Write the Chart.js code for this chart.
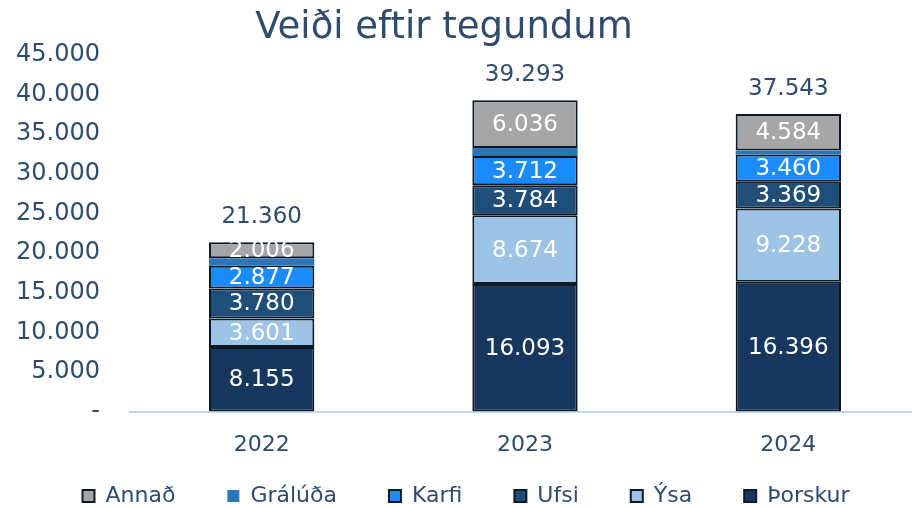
<!DOCTYPE html>
<html>
<head>
<meta charset="utf-8">
<script src="https://cdn.jsdelivr.net/npm/chart.js@4"></script>
<style>
  html, body { margin: 0; padding: 0; overflow: hidden; background: #fff; }
  #wrap { width: 920px; height: 508px; }
</style>
</head>
<body>
<div id="wrap"><canvas id="veidiChart" width="920" height="508"></canvas></div>
<script>
const years = ['2022', '2023', '2024'];
const thorskur = [8155, 16093, 16396];
const ysa = [3601, 8674, 9228];
const ufsi = [3780, 3784, 3369];
const karfi = [2877, 3712, 3460];
const graluda = [941, 994, 506];
const annad = [2006, 6036, 4584];
const totals = [21360, 39293, 37543];
const yTicks = [0, 5000, 10000, 15000, 20000, 25000, 30000, 35000, 40000, 45000];

const textColor = '#2f4b6e';
const fontFamily = '"DejaVu Sans", Verdana, sans-serif';
const edge = '#0d1a26';

function fmt(v) {
  return String(v).replace(/\B(?=(\d{3})+(?!\d))/g, '.');
}

// labels inside the segments and totals on top
const labelPlugin = {
  id: 'segmentLabels',
  afterDatasetsDraw(chart) {
    const ctx = chart.ctx;
    ctx.save();
    ctx.textAlign = 'center';
    ctx.textBaseline = 'middle';
    ctx.font = '23px ' + fontFamily;
    ctx.fillStyle = '#ffffff';
    chart.data.datasets.forEach((ds, i) => {
      if (ds.label === 'Grálúða') return;
      const meta = chart.getDatasetMeta(i);
      meta.data.forEach((bar, j) => {
        const yMid = (bar.y + bar.base) / 2;
        ctx.fillText(fmt(ds.data[j]), bar.x, yMid + 1);
      });
    });
    const topMeta = chart.getDatasetMeta(chart.data.datasets.length - 1);
    ctx.fillStyle = textColor;
    topMeta.data.forEach((bar, j) => {
      ctx.fillText(fmt(totals[j]), bar.x, bar.y - 25);
    });
    ctx.restore();
  }
};

const titlePlugin = {
  id: 'chartTitle',
  afterDraw(chart) {
    const ctx = chart.ctx;
    ctx.save();
    ctx.font = '37px ' + fontFamily;
    ctx.fillStyle = textColor;
    ctx.textAlign = 'center';
    ctx.textBaseline = 'middle';
    ctx.fillText('Veiði eftir tegundum', 444, 28);
    ctx.restore();
  }
};

// pull the legend row up closer to the year labels
const legendShift = {
  id: 'legendShift',
  afterLayout(chart) {
    chart.legend.top -= 45;
    chart.legend.bottom -= 45;
  }
};

const ctx = document.getElementById('veidiChart').getContext('2d');
new Chart(ctx, {
  type: 'bar',
  data: {
    labels: years,
    datasets: [
      { label: 'Þorskur', data: thorskur, backgroundColor: '#17375e', borderColor: edge, borderWidth: 2 },
      { label: 'Ýsa', data: ysa, backgroundColor: '#9dc3e6', borderColor: edge, borderWidth: 2 },
      { label: 'Ufsi', data: ufsi, backgroundColor: '#1f4e79', borderColor: edge, borderWidth: 2 },
      { label: 'Karfi', data: karfi, backgroundColor: '#1a8cff', borderColor: edge, borderWidth: 2 },
      { label: 'Grálúða', data: graluda, backgroundColor: '#2e75b6', borderColor: '#2e75b6', borderWidth: 0 },
      { label: 'Annað', data: annad, backgroundColor: '#a6a6a6', borderColor: edge, borderWidth: 2 },
    ],
  },
  options: {
    responsive: false,
    animation: false,
    layout: {
      padding: { top: 55, left: 12, right: 0, bottom: -54 },
    },
    datasets: {
      bar: {
        categoryPercentage: 1,
        barPercentage: 0.4,
        borderSkipped: false,
      },
    },
    plugins: {
      legend: {
        position: 'bottom',
        reverse: true,
        labels: {
          color: textColor,
          font: { family: fontFamily, size: 22 },
          boxWidth: 12,
          boxHeight: 12,
          padding: 52,
        },
      },
      tooltip: { enabled: false },
    },
    scales: {
      x: {
        stacked: true,
        grid: { display: false, drawTicks: false },
        border: { color: '#bdd7ee', width: 2 },
        ticks: {
          color: textColor,
          font: { family: fontFamily, size: 22 },
          padding: 20,
        },
      },
      y: {
        stacked: true,
        min: 0,
        max: 45000,
        grid: { display: false, drawTicks: false },
        border: { display: false },
        afterBuildTicks(scale) {
          scale.ticks = yTicks.map((v) => ({ value: v }));
        },
        afterFit(scale) {
          scale.width = 118;
        },
        ticks: {
          color: textColor,
          font: { family: fontFamily, size: 24 },
          padding: 30,
          callback: (v) => (v === 0 ? '-' : fmt(v)),
        },
      },
    },
  },
  plugins: [labelPlugin, titlePlugin, legendShift],
});
</script>
</body>
</html>
